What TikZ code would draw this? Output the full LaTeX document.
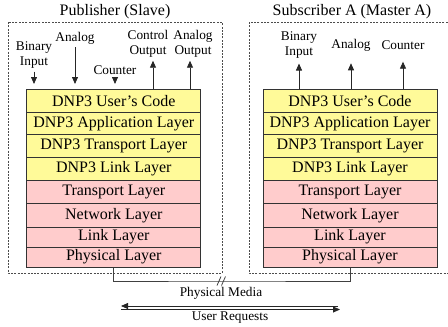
\documentclass[tikz,border=0pt]{standalone}
\usepackage{fontspec}
\setmainfont{Liberation Serif}
\usetikzlibrary{arrows.meta}
\begin{document}
\begin{tikzpicture}[x=1pt,y=-1pt,
  layer/.style={draw=black!80, line width=0.9pt, minimum width=174pt, inner sep=0pt,
    font=\fontsize{16}{18}\selectfont, anchor=north},
  dnp/.style={layer, fill=yellow!40},
  net/.style={layer, fill=red!20},
  lbl/.style={font=\fontsize{13.3}{15}\selectfont, align=center, inner sep=0pt},
  ttl/.style={font=\fontsize{16}{18}\selectfont, inner sep=0pt},
  frame/.style={draw=black!70, dash pattern=on 2pt off 1.3pt, line width=0.6pt},
  arr/.style={line width=0.8pt, draw=black!85, -{Triangle[length=7pt,width=6pt]}},
  wire/.style={line width=0.8pt, draw=black!75},
]
\useasboundingbox (0,0) rectangle (448,327);

% dashed frames
\draw[frame] (8,22) rectangle (222,273);
\draw[frame] (249,22) rectangle (452,273);

% titles
\node[ttl] (tpub) at (115,12) {Publisher (Slave)};
\node[ttl] (tsub) at (352,12) {Subscriber A (Master A)};

% stacks
\foreach \s/\cx in {L/113.8, R/350}{
  \foreach \n/\t/\y/\h/\st in {
    1/{DNP3 User's Code}/89/22.5/dnp,
    2/{DNP3 Application Layer}/111.5/22.5/dnp,
    3/{DNP3 Transport Layer}/134/22.7/dnp,
    4/{DNP3 Link Layer}/156.7/22.8/dnp,
    5/{Transport Layer}/179.5/23.5/net,
    6/{Network Layer}/203/23.7/net,
    7/{Link Layer}/226.7/20/net,
    8/{Physical Layer}/246.7/20/net}{
    \node[\st, minimum height=\h pt] (\s\n) at (\cx,\y) {\t};
  }
}

% publisher labels and arrows
\node[lbl] (lbin) at (34,55) {Binary\\Input};
\node[lbl] (lana) at (75,38) {Analog};
\node[lbl] (lcnt) at (115,70) {Counter};
\node[lbl] (lctl) at (148,44) {Control\\Output};
\node[lbl] (laout) at (193,44) {Analog\\Output};

\draw[arr, shorten <=3pt, shorten >=5pt] (lbin.south) -- (lbin.south |- L1.north);
\draw[arr, shorten <=3pt, shorten >=5pt] (lana.south) -- (lana.south |- L1.north);
\draw[arr, shorten <=3pt, shorten >=5pt] (lcnt.south) -- (lcnt.south |- L1.north);
\coordinate (pco) at (153,89);
\coordinate (pao) at (190,89);
\draw[arr, shorten >=3pt] (pco) -- (pco |- lctl.south);
\draw[arr, shorten >=3pt] (pao) -- (pao |- laout.south);

% subscriber labels and arrows
\node[lbl] (rbin) at (299,45) {Binary\\Input};
\node[lbl] (rana) at (351,45) {Analog};
\node[lbl] (rcnt) at (403,45) {Counter};
\draw[arr, shorten >=5pt] (rbin.south |- R1.north) -- (rbin.south);
\draw[arr, shorten >=12pt] (rana.south |- R1.north) -- (rana.south);
\draw[arr, shorten >=12pt] (rcnt.south |- R1.north) -- (rcnt.south);

% physical media
\coordinate (brk) at (222,281);
\draw[wire] (L8.south) |- (brk) -| (R8.south);
\draw[wire] (brk) +(-5,4.5) -- +(-1,-4.5);
\draw[wire] (brk) +(-0.5,4.5) -- +(3.5,-4.5);
\node[lbl] (media) at (221,293) {Physical Media};

% user requests
\coordinate (ua) at (121,306);
\coordinate (ub) at (338,306);
\coordinate (uc) at (121,309.5);
\coordinate (ud) at (340,309.5);
\draw[arr] (ub) -- (ua);
\draw[arr] (uc) -- (ud);
\node[lbl] (ureq) at (230,318) {User Requests};
\end{tikzpicture}
\end{document}
